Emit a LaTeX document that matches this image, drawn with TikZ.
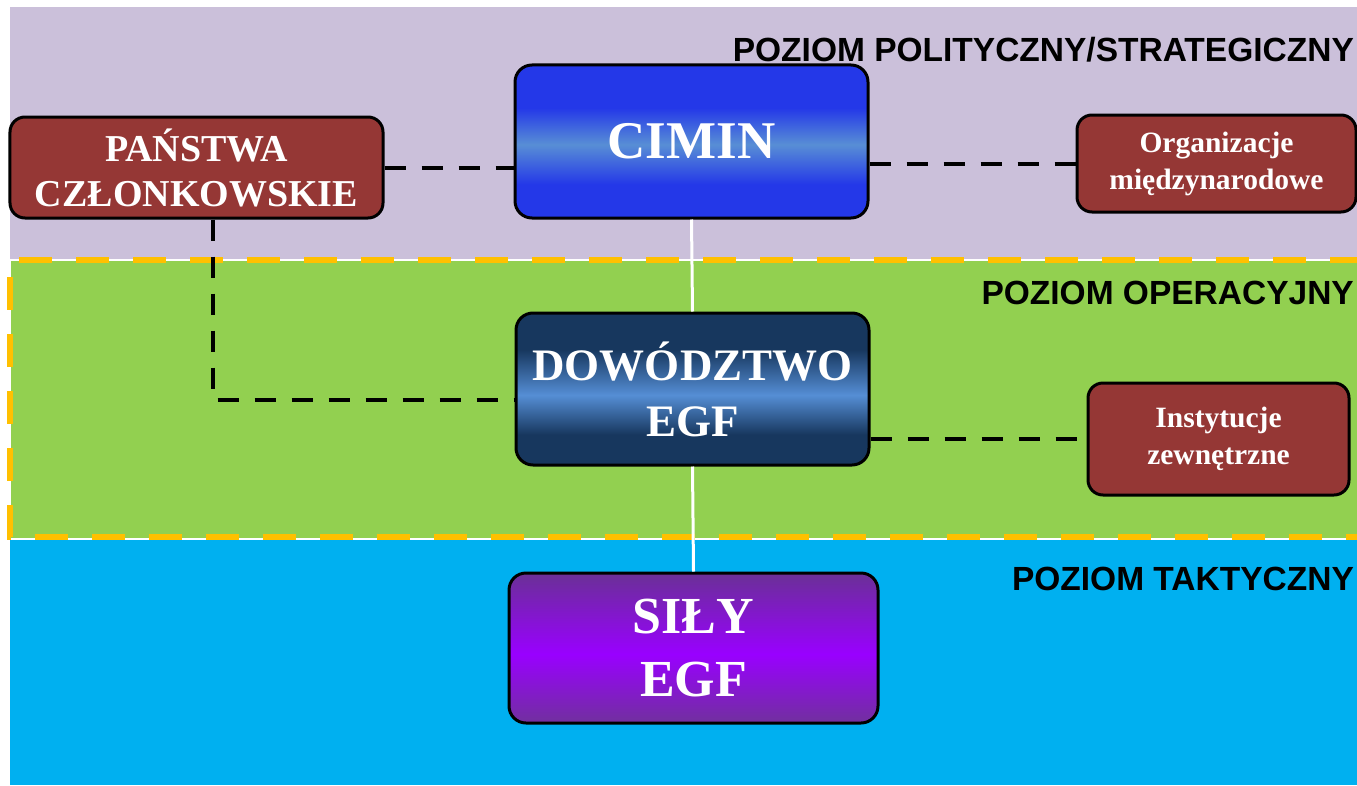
\documentclass[tikz,border=0pt]{standalone}
\usepackage{fontspec}
\setmainfont{Liberation Serif}
\newfontfamily\lblfont{Liberation Sans}
\definecolor{bandpurple}{RGB}{203,192,218}
\definecolor{bandgreen}{RGB}{146,208,80}
\definecolor{bandblue}{RGB}{0,176,240}
\definecolor{orangeline}{RGB}{255,192,0}
\definecolor{boxred}{RGB}{149,55,53}
\definecolor{cimA}{RGB}{36,56,232}
\definecolor{cimB}{RGB}{88,142,213}
\definecolor{dowA}{RGB}{23,55,94}
\definecolor{dowB}{RGB}{85,142,213}
\definecolor{silA}{RGB}{106,48,150}
\definecolor{silB}{RGB}{153,0,255}
\definecolor{silC}{RGB}{113,48,158}
\pgfdeclareverticalshading{cimshade}{100bp}{color(0bp)=(cimA); color(36bp)=(cimA); color(49bp)=(cimB); color(61bp)=(cimA); color(100bp)=(cimA)}
\pgfdeclareverticalshading{dowshade}{100bp}{color(0bp)=(dowA); color(35bp)=(dowA); color(48bp)=(dowB); color(63bp)=(dowA); color(100bp)=(dowA)}
\pgfdeclareverticalshading{silshade}{100bp}{color(0bp)=(silC); color(25bp)=(silC); color(48bp)=(silB); color(75bp)=(silA); color(100bp)=(silA)}
\tikzset{
  box/.style={rounded corners=17bp, draw=black, line width=3bp, inner sep=0pt, align=center, text=white},
  redbox/.style={box, fill=boxred, rounded corners=15bp},
  link/.style={draw=black, line width=4bp, dash pattern=on 21bp off 16bp},
  spine/.style={draw=white, line width=3bp},
  lvl/.style={anchor=base east, inner sep=0pt, font=\lblfont\bfseries\fontsize{33.5bp}{40bp}\selectfont}
}
\begin{document}
\begin{tikzpicture}[x=1bp, y=-1bp]
\useasboundingbox (0,0) rectangle (1357,785);
\clip (0,0) rectangle (1357,785);
\fill[white] (0,0) rectangle (1357,785);
% bands
\fill[bandpurple] (10,7) rectangle (1357,260);
\fill[bandblue] (10,540) rectangle (1357,785);
\draw[fill=bandgreen, draw=white, line width=1.5bp] (10,260) rectangle (1380,539);
\draw[orangeline, line width=6bp, dash pattern=on 33bp off 24bp, dash phase=-9bp] (10,260) -- (1380,260);
\draw[orangeline, line width=6bp, dash pattern=on 33bp off 24bp, dash phase=-17bp] (10,260) -- (10,537) -- (1380,537);
% level labels
\node[lvl] (l1) at (1354,62) {POZIOM POLITYCZNY/STRATEGICZNY};
\node[lvl] (l2) at (1354,304) {POZIOM OPERACYJNY};
\node[lvl] (l3) at (1354,590) {POZIOM TAKTYCZNY};
% boxes
\node[redbox, minimum width=373bp, minimum height=101bp,
  font=\bfseries\fontsize{38bp}{45bp}\selectfont] (PAN) at (196.5,167.5) {PAŃSTWA\\CZŁONKOWSKIE};
\node[box, shading=cimshade, minimum width=353bp, minimum height=153bp,
  font=\bfseries\fontsize{53bp}{60bp}\selectfont] (CIM) at (691.5,141.5) {CIMIN};
\node[redbox, minimum width=279bp, minimum height=97bp,
  font=\bfseries\fontsize{29.5bp}{37bp}\selectfont] (ORG) at (1216.5,163.5) {Organizacje\\międzynarodowe};
\node[box, shading=dowshade, minimum width=353bp, minimum height=152bp,
  font=\bfseries\fontsize{45bp}{56bp}\selectfont] (DOW) at (692.5,389) {DOWÓDZTWO\\EGF};
\node[redbox, minimum width=261bp, minimum height=112bp,
  font=\bfseries\fontsize{29.5bp}{37bp}\selectfont] (INS) at (1218.5,439) {Instytucje\\zewnętrzne};
\node[box, shading=silshade, minimum width=369bp, minimum height=150bp,
  font=\bfseries\fontsize{52bp}{63bp}\selectfont] (SIL) at (693.5,648) {SIŁY\\EGF};
% connectors
\coordinate (bend) at (213,400);
\path[link] (PAN.east) -- (PAN.east -| CIM.west);
\path[link] (CIM.east |- ORG.west) -- (ORG.west);
\path[link] (bend |- PAN.south) -- (bend) -- (bend -| DOW.west);
\path[link] (DOW.east |- INS.west) -- (INS.west);
\path[spine] (CIM.south) -- (DOW.north);
\path[spine] (DOW.south) -- (SIL.north);
\end{tikzpicture}
\end{document}
